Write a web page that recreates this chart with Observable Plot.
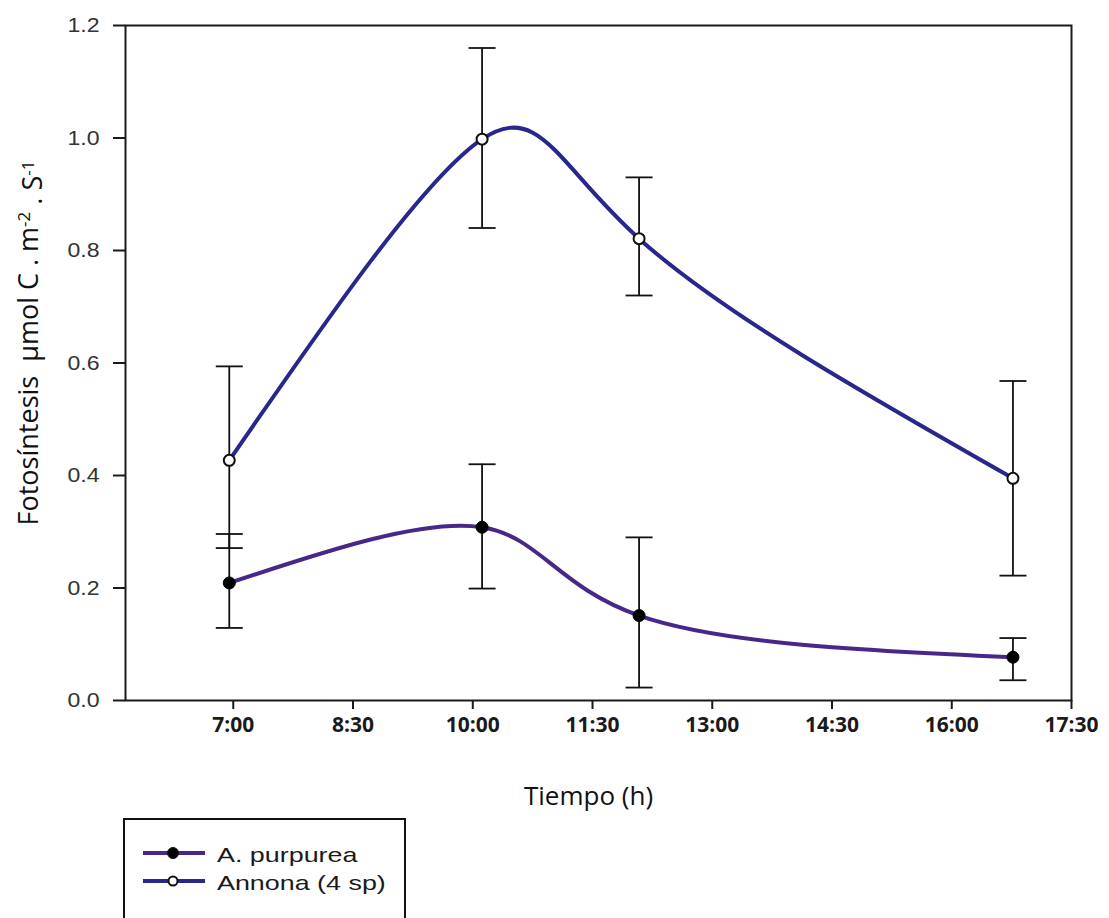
<!DOCTYPE html>
<html>
<head>
<meta charset="utf-8">
<script src="https://cdn.jsdelivr.net/npm/d3@7"></script>
<script src="https://cdn.jsdelivr.net/npm/@observablehq/plot@0.6"></script>
<style>
  html, body { margin: 0; padding: 0; background: #fff; }
  #wrap { position: relative; width: 1109px; height: 918px; overflow: hidden; background: #fff; }
  #legend { position: absolute; left: 123px; top: 818px; width: 283px; height: 120px;
            border: 2px solid #111; box-sizing: border-box; background: #fff; }
  #legend svg { position: absolute; left: 0; top: 0; }
</style>
</head>
<body>
<div id="wrap"><div id="chart"></div><div id="legend"></div></div>
<script>
// ---- data ----
const seriesNames = ["A. purpurea", "Annona (4 sp)"];
const times = ["6:57", "10:07", "12:05", "16:46"];
const purpurea   = [0.209, 0.308, 0.151, 0.077];
const purpureaLo = [0.129, 0.199, 0.023, 0.036];
const purpureaHi = [0.296, 0.420, 0.290, 0.111];
const annona     = [0.427, 0.998, 0.821, 0.395];
const annonaLo   = [0.271, 0.840, 0.720, 0.222];
const annonaHi   = [0.594, 1.160, 0.930, 0.568];
const xTickLabels = ["7:00", "8:30", "10:00", "11:30", "13:00", "14:30", "16:00", "17:30"];
const xDomainLabels = ["5:39", "17:30"];
const yTicks = [0, 0.2, 0.4, 0.6, 0.8, 1.0, 1.2];
const seriesColors = ["#48278a", "#29268c"];

const toMin = s => { const [h, m] = s.split(":").map(Number); return h * 60 + m; };
const xTickVals = xTickLabels.map(toMin);

const rows = [];
times.forEach((t, i) => {
  rows.push({series: seriesNames[0], t: toMin(t), v: purpurea[i], lo: purpureaLo[i], hi: purpureaHi[i]});
  rows.push({series: seriesNames[1], t: toMin(t), v: annona[i], lo: annonaLo[i], hi: annonaHi[i]});
});
const rowsP = rows.filter(d => d.series === seriesNames[0]);
const rowsA = rows.filter(d => d.series === seriesNames[1]);

// horizontal cap symbol for the error bars
const capSymbol = {
  draw(context, size) {
    const w = Math.sqrt(size / Math.PI);
    context.moveTo(-w, 0);
    context.lineTo(w, 0);
  }
};

const yTitle = "Fotosíntesis  µmol C . m-2 . S-1";

const chart = Plot.plot({
  width: 1109,
  height: 815,
  marginLeft: 125,
  marginRight: 38,
  marginTop: 25,
  marginBottom: 115,
  style: {background: "white", overflow: "visible"},
  x: {domain: xDomainLabels.map(toMin)},
  y: {domain: [0, 1.2]},
  marks: [
    Plot.axisY({ticks: yTicks, tickSize: 12, tickPadding: 14, tickFormat: d3.format(".1f"),
                fontSize: 21, fontFamily: "Liberation Sans, Arial, sans-serif",
                fill: "#333", stroke: "#1a1a1a", strokeWidth: 2, label: null}),
    Plot.axisX({ticks: xTickVals, tickSize: 9, tickPadding: 8,
                tickFormat: v => xTickLabels[xTickVals.indexOf(v)],
                fontSize: 21, fontWeight: "bold", fontFamily: "Open Sans, sans-serif",
                fill: "#1a1a1a", stroke: "#1a1a1a", strokeWidth: 2, label: null}),
    Plot.frame({stroke: "#1a1a1a", strokeWidth: 2}),
    // error bars
    Plot.ruleX(rows, {x: "t", y1: "lo", y2: "hi", stroke: "#111", strokeWidth: 1.8}),
    Plot.dot(rows, {x: "t", y: "lo", symbol: capSymbol, r: 13.5, stroke: "#111", fill: "none", strokeWidth: 1.8}),
    Plot.dot(rows, {x: "t", y: "hi", symbol: capSymbol, r: 13.5, stroke: "#111", fill: "none", strokeWidth: 1.8}),
    // smoothed lines
    Plot.line(rowsP, {x: "t", y: "v", stroke: seriesColors[0], strokeWidth: 4, curve: "natural"}),
    Plot.line(rowsA, {x: "t", y: "v", stroke: seriesColors[1], strokeWidth: 4, curve: "natural"}),
    // markers
    Plot.dot(rowsP, {x: "t", y: "v", r: 6, fill: "#000", stroke: "#000", strokeWidth: 1}),
    Plot.dot(rowsA, {x: "t", y: "v", r: 5.5, fill: "#fff", stroke: "#111", strokeWidth: 2}),
    // axis titles
    Plot.text(["Tiempo (h)"], {frameAnchor: "bottom", dx: -10, dy: 104, lineAnchor: "bottom",
                               textAnchor: "middle",
                               fontSize: 26, fontFamily: "Open Sans, sans-serif", fill: "#111"}),
    Plot.text([yTitle], {frameAnchor: "left", rotate: -90, dx: -88, dy: -20, lineAnchor: "bottom",
                         textAnchor: "middle",
                         fontSize: 27, fontFamily: "Open Sans, sans-serif", fill: "#111"})
  ]
});

// post-process: superscripts in the y title, slight horizontal stretch of y tick labels
const svg = d3.select(chart);
svg.selectAll("text").each(function() {
  const el = d3.select(this);
  if (el.text() === yTitle) {
    el.text(null).style("white-space", "pre");
    el.append("tspan").text("Fotosíntesis  µmol C . m");
    el.append("tspan").attr("dy", "-0.45em").attr("font-size", "17").text("-2");
    el.append("tspan").attr("dy", "0.45em").text(" . S");
    el.append("tspan").attr("dy", "-0.45em").attr("font-size", "17").text("-1");
  }
});
svg.selectAll('g[aria-label="y-axis tick label"] text').each(function() {
  const el = d3.select(this);
  let tr = el.attr("transform");
  if (!tr || !/translate/.test(tr)) {
    const x = +el.attr("x") || 0, y = +el.attr("y") || 0;
    el.attr("x", null).attr("y", null);
    tr = `translate(${x},${y})` + (tr ? " " + tr : "");
  }
  el.attr("transform", tr + " scale(1.1,1)");
});
document.getElementById("chart").appendChild(chart);

// legend (below the chart)
const STRETCH = 1.28;
const lg = d3.select("#legend").append("svg").attr("width", 283).attr("height", 100);
const legendRows = [
  {name: seriesNames[0], color: seriesColors[0], fill: "#000", y: 33},
  {name: seriesNames[1], color: seriesColors[1], fill: "#fff", y: 61}
];
legendRows.forEach(r => {
  lg.append("line").attr("x1", 18).attr("x2", 80).attr("y1", r.y).attr("y2", r.y)
    .attr("stroke", r.color).attr("stroke-width", 4);
  lg.append("circle").attr("cx", 48).attr("cy", r.y).attr("r", r.fill === "#000" ? 5.5 : 4.5)
    .attr("fill", r.fill).attr("stroke", "#111").attr("stroke-width", r.fill === "#000" ? 1 : 2);
  lg.append("text").attr("transform", `translate(92,${r.y + 3}) scale(${STRETCH},1)`)
    .attr("font-family", "Liberation Sans, Arial, sans-serif").attr("font-size", 21)
    .attr("fill", "#1a1a1a").attr("dominant-baseline", "middle").text(r.name);
});
</script>
</body>
</html>
